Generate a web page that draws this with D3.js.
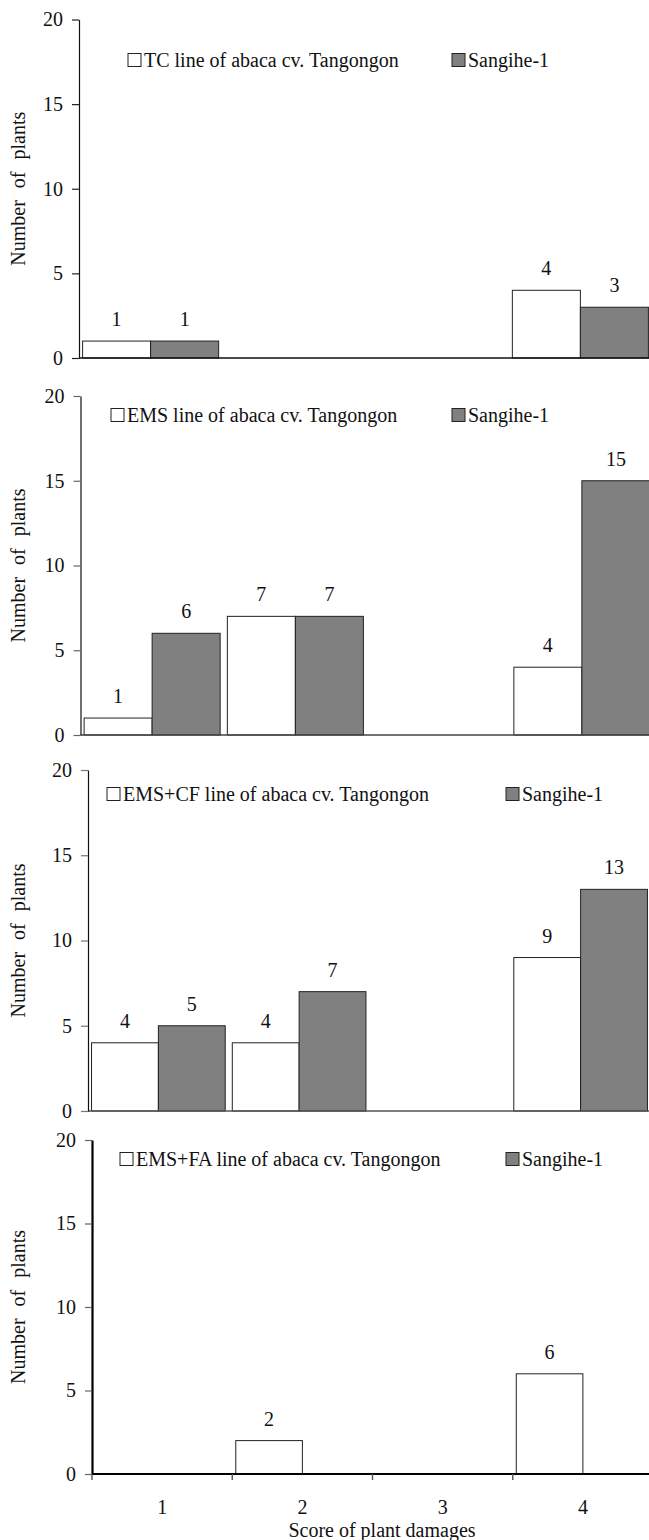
<!DOCTYPE html>
<html>
<head>
<meta charset="utf-8">
<script src="https://cdn.jsdelivr.net/npm/d3@7"></script>
<style>
  html, body { margin: 0; padding: 0; background: #fff; }
</style>
</head>
<body>
<svg id="chart" width="649" height="1540"></svg>
<script>
// ---------- data ----------
const categories = ["1", "2", "3", "4"];
const lineLabels = [
  "TC line of abaca cv. Tangongon",
  "EMS line of abaca cv. Tangongon",
  "EMS+CF line of abaca cv. Tangongon",
  "EMS+FA line of abaca cv. Tangongon"
];
const controlLabel = "Sangihe-1";
const tangongonValues = [
  [1, 0, 0, 4],
  [1, 7, 0, 4],
  [4, 4, 0, 9],
  [0, 2, 0, 6]
];
const sangiheValues = [
  [1, 0, 0, 3],
  [6, 7, 0, 15],
  [5, 7, 0, 13],
  [0, 0, 0, 0]
];
const yTickValues = [0, 5, 10, 15, 20];
const yMax = 20;
const yAxisTitle = "Number of plants";
const xAxisTitle = "Score of plant damages";

// ---------- layout (positions/styles only) ----------
const layout = [
  { left: 79,   right: 652,   top: 19.5, bottom: 358,  legY: 60,   legX: 128, sangX: 452, axisW: 1.2, axisC: "#111", baseC: "#111", baseW: 1.4, tickC: "#222" },
  { left: 80.5, right: 653.5, top: 396,  bottom: 735,  legY: 415,  legX: 111, sangX: 452, axisW: 1.2, axisC: "#111", baseC: "#444", baseW: 1.4, tickC: "#666" },
  { left: 88,   right: 651,   top: 770,  bottom: 1111, legY: 794,  legX: 107, sangX: 506, axisW: 1.2, axisC: "#111", baseC: "#555", baseW: 1.4, tickC: "#777" },
  { left: 92,   right: 653,   top: 1140, bottom: 1474, legY: 1159, legX: 120, sangX: 506, axisW: 2.2, axisC: "#000", baseC: "#000", baseW: 2,   tickC: "#666" }
];
const FONT = '"Liberation Serif", "Times New Roman", serif';
const fontSize = 20;
const whiteFill = "#ffffff", grayFill = "#808080", barStroke = "#222";

const svg = d3.select("#chart");
function txt(sel) {
  return sel.style("font-family", FONT).style("font-size", fontSize + "px").style("fill", "#111");
}

layout.forEach((L, p) => {
  const g = svg.append("g");
  const x = d3.scaleBand().domain(categories).range([L.left, L.right]).paddingInner(0).paddingOuter(0);
  const xs = d3.scaleBand().domain(["t", "s"]).range([0, x.bandwidth()]).paddingOuter(0.053).paddingInner(0);
  const y = d3.scaleLinear().domain([0, yMax]).range([L.bottom, L.top]);

  // bars
  const rows = categories.map((c, i) => ({ c, t: tangongonValues[p][i], s: sangiheValues[p][i] }));
  rows.forEach(r => {
    [["t", r.t, whiteFill], ["s", r.s, grayFill]].forEach(([k, v, fill]) => {
      if (v <= 0) return;
      const bx = x(r.c) + xs(k);
      g.append("rect")
        .attr("x", bx).attr("y", y(v))
        .attr("width", xs.bandwidth()).attr("height", y(0) - y(v))
        .attr("fill", fill).attr("stroke", barStroke).attr("stroke-width", 1);
      txt(g.append("text")
        .attr("x", bx + xs.bandwidth() / 2).attr("y", y(v) - 15)
        .attr("text-anchor", "middle"))
        .text(v);
    });
  });

  // baseline (x axis line)
  g.append("line")
    .attr("x1", L.left).attr("x2", 649)
    .attr("y1", y(0)).attr("y2", y(0))
    .attr("stroke", L.baseC).attr("stroke-width", L.baseW);

  // y axis
  const yAxis = d3.axisLeft(y).tickValues(yTickValues).tickSize(7).tickSizeOuter(0).tickPadding(9);
  const ya = g.append("g").attr("transform", `translate(${L.left},0)`).call(yAxis);
  ya.select(".domain").attr("stroke", L.axisC).attr("stroke-width", L.axisW);
  ya.selectAll(".tick line").attr("stroke", L.tickC).attr("stroke-width", 1.2);
  txt(ya.selectAll(".tick text"));

  // y axis title
  txt(g.append("text")
    .attr("transform", `translate(25,${(L.top + L.bottom) / 2}) rotate(-90)`)
    .attr("text-anchor", "middle"))
    .style("word-spacing", "7px")
    .text(yAxisTitle);

  // legend
  const box = 13;
  g.append("rect").attr("x", L.legX).attr("y", L.legY - box / 2).attr("width", box).attr("height", box)
    .attr("fill", whiteFill).attr("stroke", "#222").attr("stroke-width", 1);
  txt(g.append("text").attr("x", L.legX + box + 3).attr("y", L.legY + 6.5)).text(lineLabels[p]);
  g.append("rect").attr("x", L.sangX).attr("y", L.legY - box / 2).attr("width", box).attr("height", box)
    .attr("fill", grayFill).attr("stroke", "#222").attr("stroke-width", 1);
  txt(g.append("text").attr("x", L.sangX + box + 3).attr("y", L.legY + 6.5)).text(controlLabel);

  // x axis ticks and labels on the last panel only
  if (p === layout.length - 1) {
    const xAxis = d3.axisBottom(x).tickSize(0).tickPadding(0);
    const xa = g.append("g").attr("transform", `translate(0,${y(0)})`).call(xAxis);
    xa.select(".domain").remove();
    txt(xa.selectAll(".tick text")).attr("dy", 0).attr("y", 40);
    const bounds = categories.map(c => x(c));
    g.selectAll(".btick").data(bounds).enter().append("line")
      .attr("x1", d => d).attr("x2", d => d)
      .attr("y1", y(0)).attr("y2", y(0) + 6)
      .attr("stroke", "#555").attr("stroke-width", 1.4);
    txt(g.append("text")
      .attr("x", 382).attr("y", 1537)
      .attr("text-anchor", "middle"))
      .text(xAxisTitle);
  }
});
</script>
</body>
</html>
